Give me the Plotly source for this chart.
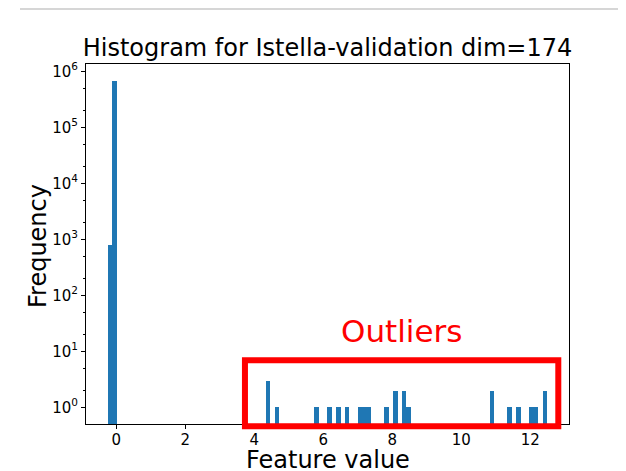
import plotly.graph_objects as go

# Histogram data (bin centres, counts)
bin_centers = [-0.176, -0.049, 4.403, 4.657, 5.802, 6.184, 6.438, 6.692,
               7.074, 7.201, 7.328, 7.837, 8.092, 8.346, 8.473, 10.890,
               11.399, 11.653, 12.035, 12.162, 12.416]
counts = [800, 690000, 3, 1, 1, 1, 1, 1,
          1, 1, 1, 1, 2, 2, 1, 2,
          1, 1, 1, 1, 2]
bin_width = 0.1272

x_ticks = [0, 2, 4, 6, 8, 10, 12]
y_tick_vals = [1, 10, 100, 1000, 10000, 100000, 1000000]
y_tick_text = ["10<sup>%d</sup>" % i for i in range(7)]

FONT = "DejaVu Sans"
OFF = 8  # page body margin offset

W, H = 626 - OFF, 471 - OFF

fig = go.Figure()
fig.add_trace(go.Bar(
    x=bin_centers, y=counts, width=[bin_width] * len(bin_centers),
    marker=dict(color="#1f77b4", line=dict(width=0)),
    showlegend=False,
))

fig.update_layout(
    width=W, height=H,
    margin=dict(l=86 - OFF, r=57, t=64 - OFF, b=47),
    paper_bgcolor="white", plot_bgcolor="white",
    font=dict(family=FONT, color="black"),
    bargap=0,
    title=dict(text="Histogram for Istella-validation dim=174",
               x=0.5, xref="paper", xanchor="center",
               y=1 - (48 - OFF) / H, yref="container", yanchor="middle",
               font=dict(size=24, family=FONT, color="black")),
    xaxis=dict(range=[-0.876, 13.12], tickvals=x_ticks,
               ticks="outside", ticklen=4, tickcolor="black", tickwidth=1,
               ticklabelstandoff=-2,
               showgrid=False, zeroline=False, showline=True, mirror=True,
               linecolor="black", linewidth=1,
               tickfont=dict(size=15, family=FONT)),
    yaxis=dict(type="log", range=[-0.295, 6.134],
               tickvals=y_tick_vals, ticktext=y_tick_text,
               ticks="outside", ticklen=4, tickcolor="black", tickwidth=1,
               minor=dict(ticks="outside", ticklen=2, tickcolor="black",
                          tickwidth=0.8, showgrid=False),
               showgrid=False, zeroline=False, showline=True, mirror=True,
               linecolor="black", linewidth=1,
               tickfont=dict(size=15, family=FONT)),
)

# axis titles
fig.add_annotation(text="Feature value", xref="paper", yref="paper",
                   x=0.5, y=-(460 - 424) / 360, xanchor="center", yanchor="middle",
                   showarrow=False, font=dict(size=24, family=FONT, color="black"))
fig.add_annotation(text="Frequency", xref="paper", yref="paper",
                   x=-(86 - 38) / 483, y=(424 - 246) / 360, xanchor="center", yanchor="middle",
                   textangle=-90, showarrow=False,
                   font=dict(size=24, family=FONT, color="black"))

# outlier highlight
fig.add_shape(type="rect", xref="x", yref="paper",
              x0=3.73, x1=12.81, y0=-(426.3 - 424) / 360, y1=(424 - 360.3) / 360,
              line=dict(color="red", width=6), fillcolor="rgba(0,0,0,0)")
fig.add_annotation(text="Outliers", xref="paper", yref="paper",
                   x=(401 - 86) / 483, y=(424 - 331) / 360, xanchor="center", yanchor="middle",
                   showarrow=False, font=dict(size=31, family=FONT, color="red"))

# top separator line
fig.add_shape(type="line", xref="paper", yref="paper",
              x0=(20 - 86) / 483, x1=(626 - 86) / 483,
              y0=(424 - 9) / 360, y1=(424 - 9) / 360,
              line=dict(color="#c8c8c8", width=1.5))

fig.write_html("out.html")
